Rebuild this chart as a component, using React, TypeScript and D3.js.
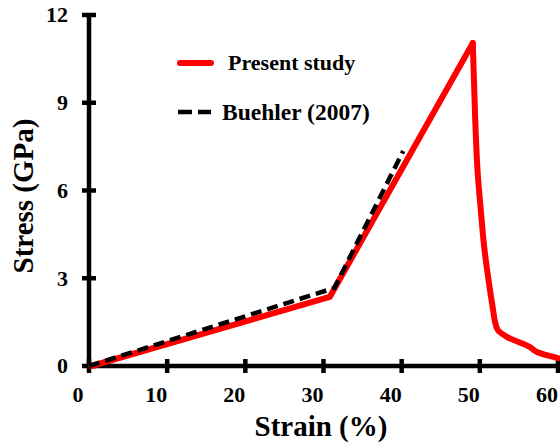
import React from "react";
import * as d3 from "d3";

// Stress–strain curves
const presentStrain = [0.3, 30.8, 49.1, 49.4, 49.75, 50.1, 50.6, 51.3, 51.7, 51.9, 52.3, 53.5, 56.4, 57.3, 60];
const presentStress = [0, 2.36, 11.04, 8.5, 6.5, 5.4, 3.97, 2.6, 1.91, 1.57, 1.23, 0.99, 0.65, 0.48, 0.27];
const peakIndex = 2;

const buehlerStrain = [0, 31.4, 40.2];
const buehlerStress = [0, 2.67, 7.35];

const xTicks = [0, 10, 20, 30, 40, 50, 60];
const yTicks = [0, 3, 6, 9, 12];

const seriesNames = ["Present study", "Buehler (2007)"];

const W = 560;
const H = 446;
const FONT = "'Liberation Serif', 'Times New Roman', serif";

export default function App() {
  const x = d3.scaleLinear().domain([0, 60]).range([89, 558]);
  const y = d3.scaleLinear().domain([0, 12]).range([366, 15]);

  const line = d3
    .line<[number, number]>()
    .x((d) => x(d[0]))
    .y((d) => y(d[1]));
  // the post-peak drop is nearly vertical, so interpolate it monotone in y
  const smooth = d3
    .line<[number, number]>()
    .x((d) => x(d[0]))
    .y((d) => y(d[1]))
    .curve(d3.curveMonotoneY);

  const present = presentStrain.map((s, i) => [s, presentStress[i]] as [number, number]);
  const rising = present.slice(0, peakIndex + 1);
  const falling = present.slice(peakIndex);
  const buehler = buehlerStrain.map((s, i) => [s, buehlerStress[i]] as [number, number]);

  const axisW = 4.5;
  const tickHalf = 7;

  return (
    <svg
      width={W}
      height={H}
      style={{ position: "absolute", left: 0, top: 0, background: "#fff" }}
      fontFamily={FONT}
      fontWeight="bold"
    >
      {/* axes */}
      <line x1={x(0)} x2={x(60)} y1={y(0)} y2={y(0)} stroke="#000" strokeWidth={axisW} />
      <line x1={x(0)} x2={x(0)} y1={y(0) + 2} y2={y(12)} stroke="#000" strokeWidth={axisW} />
      {xTicks.map((t) => (
        <g key={"xt" + t}>
          <line x1={x(t)} x2={x(t)} y1={y(0) - tickHalf} y2={y(0) + tickHalf} stroke="#000" strokeWidth={axisW} />
          <text x={x(t) - 11} y={402} textAnchor="middle" fontSize={22}>
            {t}
          </text>
        </g>
      ))}
      {yTicks.map((t) => (
        <g key={"yt" + t}>
          <line x1={x(0) - tickHalf} x2={x(0) + tickHalf} y1={y(t)} y2={y(t)} stroke="#000" strokeWidth={axisW} />
          <text x={68} y={y(t)} dy="0.34em" textAnchor="end" fontSize={22}>
            {t}
          </text>
        </g>
      ))}

      {/* axis titles */}
      <text x={321} y={436} textAnchor="middle" fontSize={29}>
        Strain (%)
      </text>
      <text transform="translate(33,196) rotate(-90)" textAnchor="middle" fontSize={29}>
        Stress (GPa)
      </text>

      {/* curves */}
      <path d={line(rising) || ""} fill="none" stroke="#ff0000" strokeWidth={6} strokeLinejoin="round" strokeLinecap="round" />
      <path d={smooth(falling) || ""} fill="none" stroke="#ff0000" strokeWidth={6} strokeLinejoin="round" strokeLinecap="round" />
      <path d={line(buehler) || ""} fill="none" stroke="#000" strokeWidth={4.5} strokeDasharray="11,6" />

      {/* legend */}
      <line x1={180} x2={211} y1={63} y2={63} stroke="#ff0000" strokeWidth={6} strokeLinecap="round" />
      <text x={228} y={70} fontSize={22}>
        {seriesNames[0]}
      </text>
      <line x1={178} x2={211} y1={112} y2={112} stroke="#000" strokeWidth={4.5} strokeDasharray="14,6" />
      <text x={222} y={120} fontSize={23.5}>
        {seriesNames[1]}
      </text>
    </svg>
  );
}
